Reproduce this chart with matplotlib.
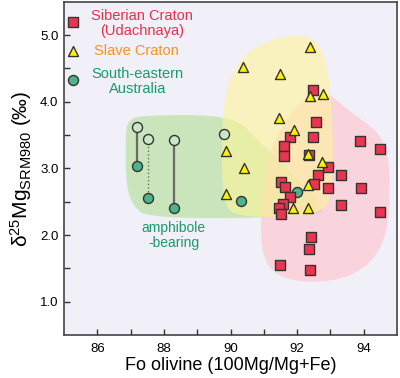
import numpy as np
import matplotlib
matplotlib.use("Agg")
import matplotlib.pyplot as plt
from matplotlib.patches import Polygon

plt.rcParams['font.family'] = ['Liberation Sans', 'DejaVu Sans']
plt.rcParams['mathtext.fontset'] = 'custom'
plt.rcParams['mathtext.rm'] = 'Liberation Sans'
plt.rcParams['mathtext.it'] = 'Liberation Sans:italic'

# Siberian Craton (Udachnaya)
sib_fo = [92.48, 92.57, 91.78, 92.49, 91.61, 93.88, 94.48, 91.61, 92.37, 92.93,
          92.64, 93.33, 91.53, 91.64, 92.51, 92.92, 93.91, 91.78, 91.59, 91.47,
          91.53, 93.31, 94.50, 92.42, 92.37, 91.50, 92.40]
sib_mg = [4.17, 3.69, 3.47, 3.47, 3.34, 3.41, 3.29, 3.19, 3.20, 3.02,
          2.90, 2.90, 2.80, 2.72, 2.77, 2.71, 2.71, 2.57, 2.46, 2.40,
          2.31, 2.45, 2.35, 1.97, 1.79, 1.55, 1.47]

# Slave Craton
slave_fo = [92.38, 90.39, 91.50, 92.39, 92.79, 91.46, 91.90, 89.87, 90.40,
            89.87, 92.34, 92.74, 92.32, 91.88, 92.34]
slave_mg = [4.83, 4.52, 4.41, 4.09, 4.12, 3.75, 3.58, 3.26, 3.00,
            2.61, 3.22, 3.09, 2.75, 2.40, 2.41]

# South-eastern Australia (pale = amphibole-bearing pairs)
se_pale_fo = [87.20, 87.52, 88.29, 89.80]
se_pale_mg = [3.62, 3.44, 3.42, 3.52]
se_dark_fo = [87.20, 87.52, 88.29, 90.32, 92.00]
se_dark_mg = [3.03, 2.55, 2.40, 2.51, 2.64]
pair_styles = ['-', ':', '-']

# field outlines (Fo, d25Mg)
green_field = [(86.90, 3.70), (87.26, 3.80), (90.09, 3.80), (90.83, 3.43), (92.02, 2.84),
               (92.83, 2.42), (92.62, 2.27), (87.56, 2.24), (87.02, 2.46), (86.85, 2.84),
               (86.85, 3.51)]
yellow_field = [(89.73, 3.58), (89.88, 4.25), (90.39, 4.70), (91.13, 4.92), (91.88, 5.01),
                (92.56, 4.95), (92.92, 4.55), (93.07, 3.73), (93.07, 2.61), (92.77, 2.36),
                (92.02, 2.27), (90.24, 2.27), (89.76, 2.46)]
pink_field = [(91.73, 3.85), (92.77, 4.21), (93.51, 3.88), (94.55, 3.51), (94.79, 3.06),
              (94.76, 2.09), (94.26, 1.57), (93.21, 1.30), (91.73, 1.30), (90.98, 1.57),
              (90.89, 2.24), (91.07, 3.13)]


def smooth(pts, n=3):
    p = np.array(pts)
    for _ in range(n):
        q = np.roll(p, -1, axis=0)
        p = np.vstack([0.75 * p + 0.25 * q, 0.25 * p + 0.75 * q]).reshape(2, -1, 2).transpose(1, 0, 2).reshape(-1, 2)
    return p


fig = plt.figure(figsize=(4, 3.78), dpi=100)
ax = fig.add_axes([0.16, 0.114, 0.8325, 0.881])
ax.set_facecolor('#f1eff7')

ax.add_patch(Polygon(smooth(green_field), closed=True, fc='#b5e19c', ec='none', alpha=0.65, zorder=1))
ax.add_patch(Polygon(smooth(pink_field), closed=True, fc='#ffc2cb', ec='none', alpha=0.6, zorder=1))
ax.add_patch(Polygon(smooth(yellow_field), closed=True, fc='#fff59a', ec='none', alpha=0.6, zorder=1))

for i, ls in enumerate(pair_styles):
    ax.plot([se_pale_fo[i], se_dark_fo[i]], [se_pale_mg[i], se_dark_mg[i]],
            color='#6b6b60', lw=1.6 if ls == '-' else 1.0, ls=ls, zorder=2)

ax.scatter(se_pale_fo, se_pale_mg, s=52, marker='o', c='#c9e8c6', edgecolors='#333333', linewidths=1, zorder=3)
ax.scatter(se_dark_fo, se_dark_mg, s=52, marker='o', c='#4db38a', edgecolors='#333333', linewidths=1, zorder=3)
ax.scatter(sib_fo, sib_mg, s=55, marker='s', c='#ea3550', edgecolors='#333333', linewidths=1, zorder=4)
ax.scatter(slave_fo, slave_mg, s=52, marker='^', c='#fff200', edgecolors='#333333', linewidths=1, zorder=5)

ax.set_xlim(85, 95)
ax.set_ylim(0.5, 5.5)
ax.set_xticks([86, 88, 90, 92, 94])
ax.set_xticks([87, 89, 91, 93], minor=True)
ax.set_yticks([1, 2, 3, 4, 5])
ax.set_yticklabels(['1.0', '2.0', '3.0', '4.0', '5.0'])
ax.set_yticks([1.5, 2.5, 3.5, 4.5], minor=True)
ax.tick_params(which='both', direction='in', length=4, width=1, color='#333333', labelsize=9.5, pad=4)
ax.tick_params(axis='x', pad=6)
for sp in ax.spines.values():
    sp.set_color('#444444')
    sp.set_linewidth(1.2)

ax.set_xlabel('Fo olivine (100Mg/Mg+Fe)', fontsize=13, labelpad=1)
ax.set_ylabel('δ$^{25}$Mg$_{\\mathregular{SRM980}}$ (‰)', fontsize=15, labelpad=4)

# legend
ax.scatter([0.027], [0.941], s=55, marker='s', c='#ea3550', edgecolors='#333333', linewidths=1,
           transform=ax.transAxes, clip_on=False, zorder=6)
ax.scatter([0.027], [0.853], s=52, marker='^', c='#fff200', edgecolors='#333333', linewidths=1,
           transform=ax.transAxes, clip_on=False, zorder=6)
ax.scatter([0.027], [0.766], s=52, marker='o', c='#4db38a', edgecolors='#333333', linewidths=1,
           transform=ax.transAxes, clip_on=False, zorder=6)
ax.text(0.234, 0.936, 'Siberian Craton\n(Udachnaya)', transform=ax.transAxes, ha='center', va='center',
        multialignment='center', fontsize=10.5, color='#e8304a', linespacing=1.1)
ax.text(0.09, 0.853, 'Slave Craton', transform=ax.transAxes, ha='left', va='center',
        fontsize=10.5, color='#f7941d')
ax.text(0.221, 0.76, 'South-eastern\nAustralia', transform=ax.transAxes, ha='center', va='center',
        multialignment='center', fontsize=10.5, color='#1a9a6a', linespacing=1.1)
ax.text(88.3, 1.99, 'amphibole\n-bearing', ha='center', va='center', multialignment='center',
        fontsize=10, color='#1a9a6a', linespacing=1.1)

fig.savefig('out.png', dpi=100)
